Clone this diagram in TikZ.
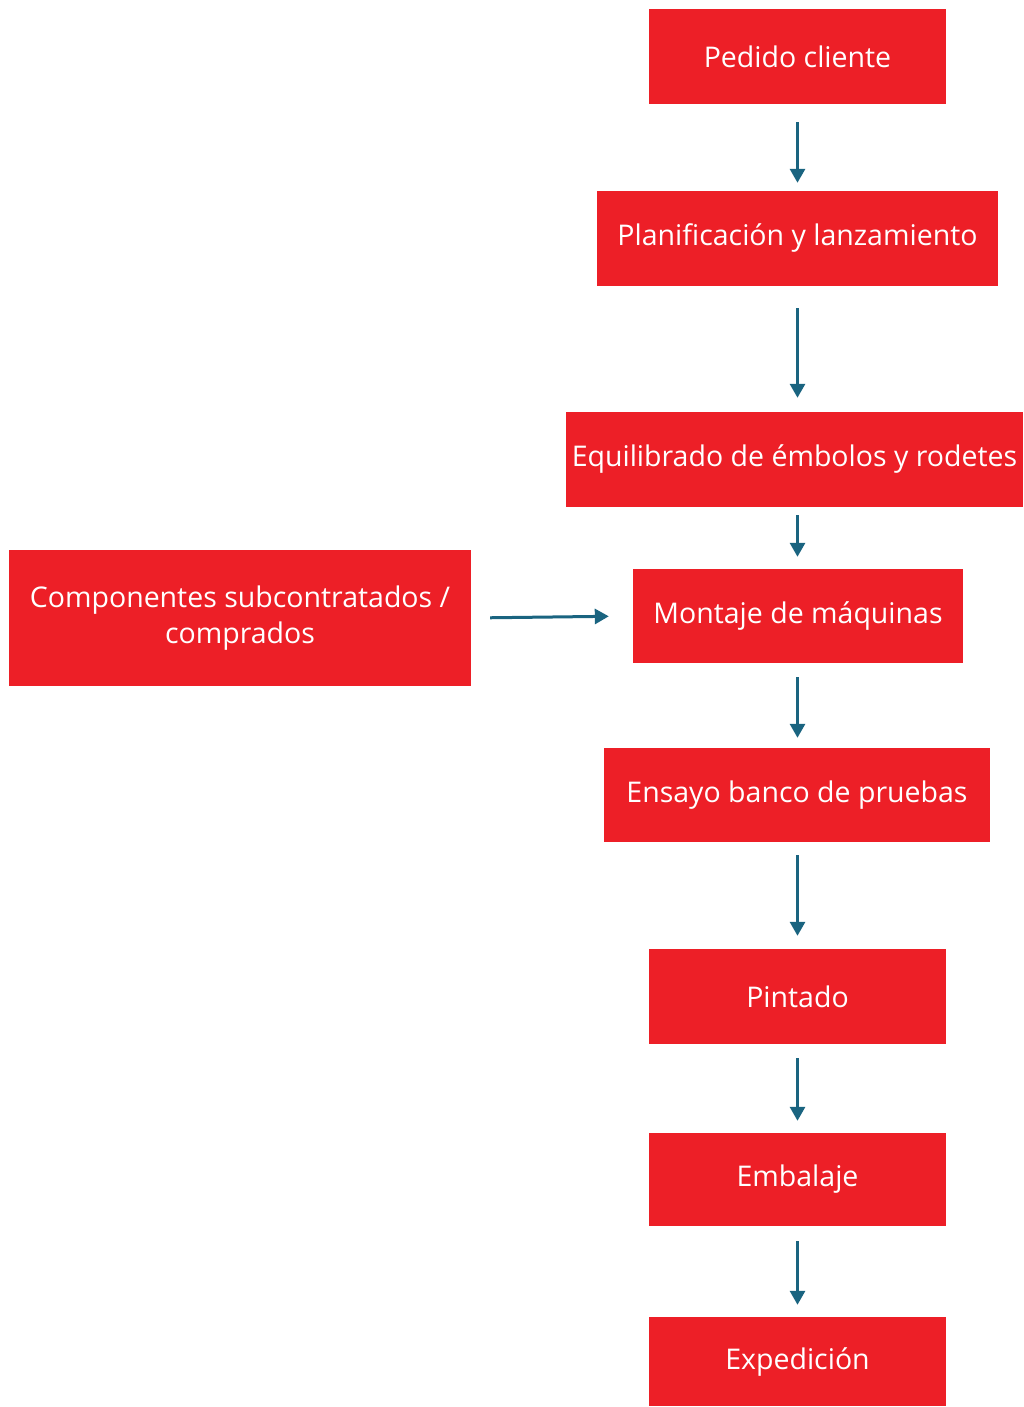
\documentclass[tikz,border=0pt]{standalone}
\usepackage{fontspec}
\setmainfont{Open Sans}
\usetikzlibrary{arrows.meta}
\definecolor{boxred}{HTML}{ED1F27}
\definecolor{arrowblue}{HTML}{1A6480}
\tikzset{
	stage/.style={fill=boxred, text=white, inner sep=0pt, align=center, font=\fontsize{28.5}{36}\selectfont},
	flow/.style={arrowblue, line width=3pt, -{Triangle[length=14pt,width=15pt]}}
}
\begin{document}
\begin{tikzpicture}[x=1pt,y=-1pt]
	\useasboundingbox (0,0) rectangle (1023,1407);

	\node[stage, minimum width=297pt, minimum height=95pt] (pedido) at (797.5,56.5) {Pedido cliente};
	\node[stage, minimum width=401pt, minimum height=95pt] (plan) at (797.5,238.5) {Planificación y lanzamiento};
	\node[stage, minimum width=457pt, minimum height=95pt] (equil) at (794.5,459.5) {Equilibrado de émbolos y rodetes};
	\node[stage, minimum width=330pt, minimum height=94pt] (montaje) at (798,616) {Montaje de máquinas};
	\node[stage, minimum width=386pt, minimum height=94pt] (ensayo) at (797,795) {Ensayo banco de pruebas};
	\node[stage, minimum width=297pt, minimum height=95pt] (pintado) at (797.5,996.5) {Pintado};
	\node[stage, minimum width=297pt, minimum height=93pt] (embalaje) at (797.5,1179.5) {Embalaje};
	\node[stage, minimum width=297pt, minimum height=89pt] (expedicion) at (797.5,1361.5) {Expedición};
	\node[stage, minimum width=462pt, minimum height=136pt] (comp) at (240,618) {Componentes subcontratados /\\comprados};

	\draw[flow, shorten <=18pt, shorten >=8pt] (pedido.south) -- (pedido.south |- plan.north);
	\draw[flow, shorten <=22pt, shorten >=14pt] (plan.south) -- (plan.south |- equil.north);
	\draw[flow, shorten <=8pt, shorten >=12pt] (plan.south |- equil.south) -- (plan.south |- montaje.north);
	\draw[flow, shorten <=14pt, shorten >=10pt] (plan.south |- montaje.south) -- (plan.south |- ensayo.north);
	\draw[flow, shorten <=13pt, shorten >=13pt] (plan.south |- ensayo.south) -- (plan.south |- pintado.north);
	\draw[flow, shorten <=14pt, shorten >=12pt] (pintado.south) -- (embalaje.north);
	\draw[flow, shorten <=15pt, shorten >=12pt] (embalaje.south) -- (expedicion.north);
	\draw[flow, shorten <=19pt, shorten >=24pt] (comp.east) -- (montaje.west);

\end{tikzpicture}
\end{document}
